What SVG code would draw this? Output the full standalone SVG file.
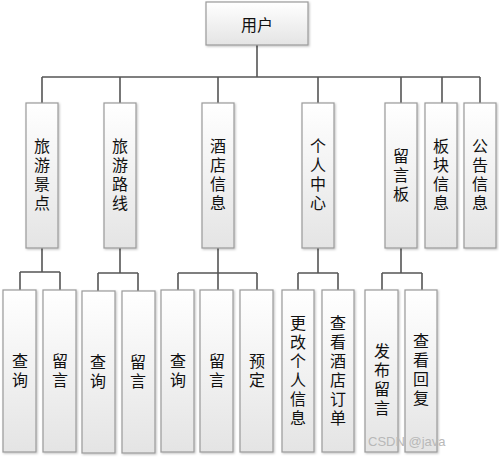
<svg xmlns="http://www.w3.org/2000/svg" width="499" height="457" viewBox="0 0 499 457">
<style>
.box{fill:url(#g);stroke:#9a9a9a;stroke-width:1.2;filter:url(#sh)}
.t{font-family:"Noto Sans CJK SC","Liberation Sans",sans-serif;font-size:16px;fill:#111;text-anchor:middle}
.v{writing-mode:vertical-rl;text-orientation:upright;letter-spacing:3px}
.c{stroke:#555;stroke-width:1.6;fill:none}
.wm{font-family:"Liberation Sans",sans-serif;font-size:13px;fill:#b8b8b8}
</style>
<defs>
<linearGradient id="g" x1="0" y1="0" x2="0" y2="1">
<stop offset="0" stop-color="#ffffff"/>
<stop offset="1" stop-color="#e4e4e4"/>
</linearGradient>
<filter id="sh" x="-20%" y="-20%" width="140%" height="140%">
<feDropShadow dx="1" dy="1" stdDeviation="0.8" flood-color="#000" flood-opacity="0.25"/>
</filter>
</defs>
<rect width="499" height="457" fill="#fff"/>
<g id="connectors">
<path class="c" d="M257 45V77M42 77H480M42 77V103M120 77V103M218 77V103M318 77V103M401 77V103M442 77V103M480 77V103"/>
<path class="c" d="M42 248V272M20 272H60M20 272V290M60 272V290"/>
<path class="c" d="M120 248V273M98 273H138M98 273V291M138 273V291"/>
<path class="c" d="M218 248V290M178 273H257M178 273V290M257 273V290"/>
<path class="c" d="M318 248V273M298 273H338M298 273V290M338 273V290"/>
<path class="c" d="M401 248V273M382 273H422M382 273V290M422 273V290"/>
</g>
<g id="n-user"><rect class="box" x="206" y="2" width="102" height="43"/><text class="t" x="257" y="31">用户</text></g>
<g id="n-jd"><rect class="box" x="26" y="103" width="32" height="145"/><text class="t v" x="42" y="176">旅游景点</text></g>
<g id="n-lx"><rect class="box" x="104" y="103" width="32" height="145"/><text class="t v" x="120" y="176">旅游路线</text></g>
<g id="n-jdxx"><rect class="box" x="202" y="103" width="32" height="145"/><text class="t v" x="218" y="176">酒店信息</text></g>
<g id="n-grzx"><rect class="box" x="302" y="103" width="32" height="145"/><text class="t v" x="318" y="176">个人中心</text></g>
<g id="n-lyb"><rect class="box" x="385" y="103" width="32" height="145"/><text class="t v" x="401" y="176">留言板</text></g>
<g id="n-bkxx"><rect class="box" x="425" y="103" width="32" height="145"/><text class="t v" x="441" y="176">板块信息</text></g>
<g id="n-ggxx"><rect class="box" x="464" y="103" width="32" height="145"/><text class="t v" x="480" y="176">公告信息</text></g>
<g id="n-cx1"><rect class="box" x="3" y="290" width="33" height="162"/><text class="t v" x="20" y="372">查询</text></g>
<g id="n-ly1"><rect class="box" x="43" y="290" width="33" height="162"/><text class="t v" x="60" y="372">留言</text></g>
<g id="n-cx2"><rect class="box" x="82" y="291" width="33" height="162"/><text class="t v" x="98" y="373">查询</text></g>
<g id="n-ly2"><rect class="box" x="122" y="291" width="33" height="162"/><text class="t v" x="138" y="373">留言</text></g>
<g id="n-cx3"><rect class="box" x="161" y="290" width="33" height="162"/><text class="t v" x="178" y="372">查询</text></g>
<g id="n-ly3"><rect class="box" x="200" y="290" width="33" height="162"/><text class="t v" x="217" y="372">留言</text></g>
<g id="n-yd"><rect class="box" x="240" y="290" width="33" height="162"/><text class="t v" x="257" y="372">预定</text></g>
<g id="n-ggxx2"><rect class="box" x="282" y="290" width="32" height="162"/><text class="t v" x="298" y="372">更改个人信息</text></g>
<g id="n-ckdd"><rect class="box" x="322" y="290" width="32" height="162"/><text class="t v" x="338" y="372">查看酒店订单</text></g>
<g id="n-fbly"><rect class="box" x="365" y="290" width="33" height="162"/><text class="t v" x="382" y="381">发布留言</text></g>
<g id="n-ckhf"><rect class="box" x="405" y="290" width="32" height="162"/><text class="t v" x="421" y="371">查看回复</text></g>
<text class="wm" x="368" y="446">CSDN @java</text>
</svg>
